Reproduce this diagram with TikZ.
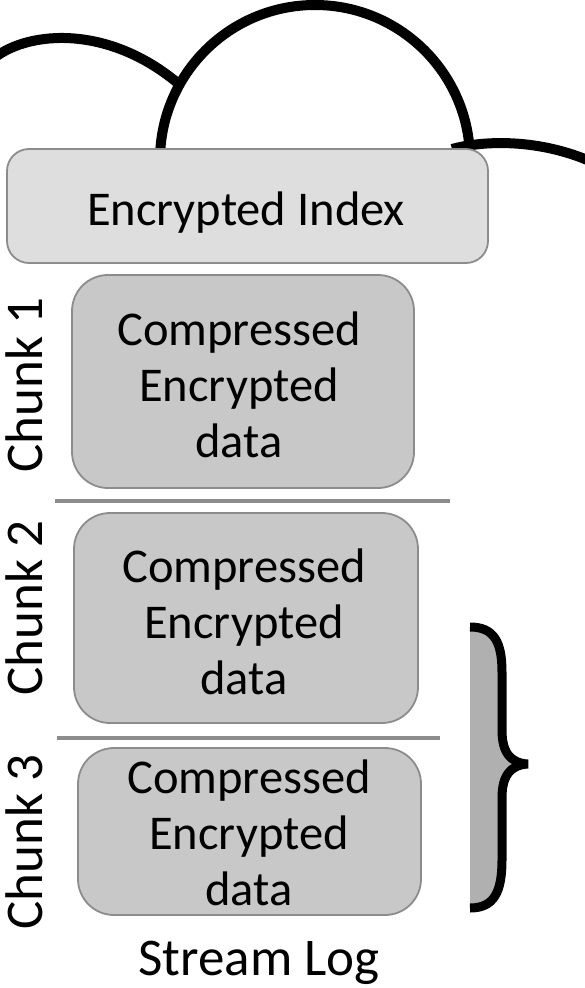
\documentclass[tikz,border=0pt]{standalone}
\usepackage{fontspec}
\setmainfont{Carlito}
\definecolor{idxfill}{HTML}{DEDEDE}
\definecolor{chunkfill}{HTML}{C8C8C8}
\definecolor{boxline}{HTML}{8C8C8C}
\definecolor{bracefill}{HTML}{B0B0B0}
\begin{document}
\begin{tikzpicture}[x=1pt,y=-1pt,
  idxbox/.style={draw=boxline, line width=1.8pt, fill=idxfill, rounded corners=22pt, inner sep=0pt},
  chunkbox/.style={draw=boxline, line width=1.8pt, fill=chunkfill, rounded corners=36pt, inner sep=0pt},
  boxtext/.style={font=\fontsize{48.5}{56}\selectfont, align=center, inner sep=0pt},
  sidelabel/.style={font=\fontsize{53}{60}\selectfont, rotate=90, inner sep=0pt},
  divider/.style={draw=boxline, line width=4.5pt},
  cloudline/.style={line width=10pt, black},
  braceline/.style={line width=9pt, black, line join=bevel},
]
\useasboundingbox (0,0) rectangle (584,988);

% cloud outline, drawn first so the index box hides its lower ends
\draw[cloudline] (-6,58) .. controls (30,30) and (110,25) .. (180,85);
\draw[cloudline] (160,160) arc[start angle=180, end angle=360, x radius=155, y radius=155];
\draw[cloudline] (452,149) .. controls (485,140) and (540,139) .. (592,162);

% encrypted index
\node[idxbox, minimum width=481pt, minimum height=114pt] (index) at (247.5,206) {};
\node[boxtext] (indextext) at (246,213) {Encrypted Index};

% chunks
\node[chunkbox, minimum width=342pt, minimum height=213pt] (chunkA) at (243,381.5) {};
\node[boxtext] (chunkAtext) at (239,384.5) {Compressed\\Encrypted\\data};

\node[chunkbox, minimum width=344pt, minimum height=210pt] (chunkB) at (246,618) {};
\node[boxtext] (chunkBtext) at (244,621.5) {Compressed\\Encrypted\\data};

\node[chunkbox, minimum width=343pt, minimum height=167pt] (chunkC) at (249.5,831.5) {};
\node[boxtext] (chunkCtext) at (249,833) {Compressed\\Encrypted\\data};

% dividers between chunks
\coordinate (divAl) at (55,501);
\coordinate (divAr) at (450,501);
\coordinate (divBl) at (57,738);
\coordinate (divBr) at (440,738);
\draw[divider] (divAl) -- (divAr);
\draw[divider] (divBl) -- (divBr);

% side labels
\node[sidelabel] (labA) at (24,385) {Chunk 1};
\node[sidelabel] (labB) at (24,608) {Chunk 2};
\node[sidelabel] (labC) at (24,842) {Chunk 3};

\node[font=\fontsize{53}{60}\selectfont, inner sep=0pt] (streamlog) at (259,963) {Stream Log};

% brace grouping the stream log chunks
\fill[bracefill] (470,627) .. controls (494,627) and (502,642) .. (502,672)
  -- (502,730) .. controls (502,752) and (510,763) .. (528,764)
  .. controls (510,765) and (502,776) .. (502,798)
  -- (502,860) .. controls (502,892) and (494,908) .. (470,908) -- cycle;
\draw[braceline] (470,627) .. controls (494,627) and (502,642) .. (502,672)
  -- (502,730) .. controls (502,752) and (510,763) .. (528,764)
  .. controls (510,765) and (502,776) .. (502,798)
  -- (502,860) .. controls (502,892) and (494,908) .. (470,908);
\end{tikzpicture}
\end{document}
